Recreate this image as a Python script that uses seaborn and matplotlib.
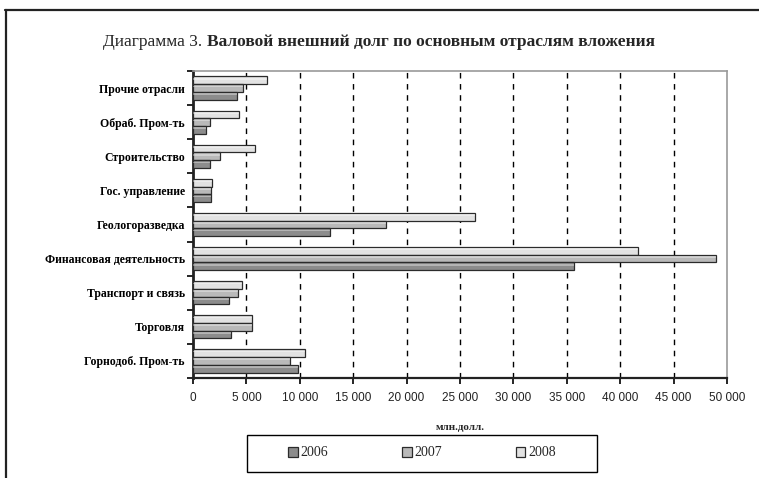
import matplotlib
matplotlib.use("Agg")
import matplotlib.pyplot as plt
from matplotlib.ticker import FuncFormatter, FixedLocator
from matplotlib.lines import Line2D
from matplotlib.patches import Patch, Rectangle
import pandas as pd
import seaborn as sns

# Branches, top to bottom
categories = [
    "Прочие отрасли",
    "Обраб. Пром-ть",
    "Строительство",
    "Гос. управление",
    "Геологоразведка",
    "Финансовая деятельность",
    "Транспорт и связь",
    "Торговля",
    "Горнодоб. Пром-ть",
]
years = ["2006", "2007", "2008"]
# Gross external debt, mln USD
debt_2006 = [4100, 1200, 1600, 1700, 12800, 35700, 3400, 3600, 9800]
debt_2007 = [4700, 1550, 2500, 1700, 18100, 49000, 4200, 5550, 9100]
debt_2008 = [6900, 4300, 5800, 1800, 26400, 41700, 4600, 5550, 10500]
x_ticks = list(range(0, 50001, 5000))

colors = {"2006": "#8c8c8c", "2007": "#b9b9b9", "2008": "#e2e2e2"}

df = pd.DataFrame({
    "branch": categories * 3,
    "year": ["2006"] * 9 + ["2007"] * 9 + ["2008"] * 9,
    "value": debt_2006 + debt_2007 + debt_2008,
})

sns.set_theme(style="white")
plt.rcParams["font.family"] = ["Liberation Serif", "DejaVu Serif"]

fig = plt.figure(figsize=(7.59, 4.78), dpi=100)
ax = fig.add_axes([193 / 759, 1 - 378 / 478, (727 - 193) / 759, (378 - 71) / 478])

sns.barplot(
    data=df, y="branch", x="value", hue="year",
    order=categories, hue_order=["2008", "2007", "2006"],
    palette=colors, orient="h", width=0.68, ax=ax,
    edgecolor="#2b2b2b", linewidth=0.9, legend=False, zorder=3,
)

# light sheen along the upper part of each bar
for p in list(ax.patches):
    x0, y0 = p.get_x(), p.get_y()
    w, h = p.get_width(), p.get_height()
    ax.add_patch(Rectangle((x0, y0 + h * 0.18), w, h * 0.22,
                           facecolor="white", alpha=0.35, lw=0, zorder=4))

ax.set_xlim(0, 50000)
ax.set_ylim(len(categories) - 0.5, -0.5)
ax.xaxis.set_major_locator(FixedLocator(x_ticks))
ax.xaxis.set_major_formatter(FuncFormatter(lambda v, _: f"{int(v):,}".replace(",", " ")))
for v in x_ticks[1:-1]:
    ax.axvline(v, color="black", lw=1.0, ls=(0, (4, 4)), zorder=1)

# category separators as ticks on the value axis
ax.set_yticks(range(len(categories)))
ax.set_yticks([i - 0.5 for i in range(len(categories) + 1)], minor=True)
ax.tick_params(axis="y", which="major", length=0, pad=6)
ax.tick_params(axis="y", which="minor", left=True, length=4, width=1.2, color="black")
ax.tick_params(axis="x", bottom=True, length=4, width=1.2, color="black", pad=6)
for lab in ax.get_yticklabels():
    lab.set_fontweight("bold")
    lab.set_fontsize(8.5)
    lab.set_color("black")
for lab in ax.get_xticklabels():
    lab.set_family(["Liberation Sans Narrow", "Liberation Sans"])
    lab.set_fontsize(8.5)
    lab.set_color("#222222")

ax.set_ylabel("")
ax.set_xlabel("млн.долл.", fontsize=8, fontweight="bold", labelpad=14)

ax.spines["left"].set_linewidth(2.0)
ax.spines["left"].set_color("#222222")
ax.spines["bottom"].set_linewidth(1.6)
ax.spines["bottom"].set_color("#222222")
for s in ("top", "right"):
    ax.spines[s].set_color("#9a9a9a")
    ax.spines[s].set_linewidth(1.2)

# title: plain prefix followed by bold text
t1 = fig.text(0.5, 1 - 42 / 478, "Диаграмма 3. ", fontsize=12.5, ha="left", va="center")
title_full = "Валовой внешний долг по основным отраслям вложения"
t2 = fig.text(0.5, 1 - 42 / 478, title_full, fontsize=12.5, fontweight="bold", ha="left", va="center")
fig.canvas.draw()
r = fig.canvas.get_renderer()
w1 = t1.get_window_extent(r).width / fig.bbox.width
w2 = t2.get_window_extent(r).width / fig.bbox.width
start = 0.4993 - (w1 + w2) / 2
t1.set_x(start)
t2.set_x(start + w1)

# legend inside a hand-drawn frame
fig.add_artist(Rectangle((247 / 759, 1 - 472 / 478), (597 - 247) / 759, 37 / 478,
                         transform=fig.transFigure, facecolor="none",
                         edgecolor="black", lw=1.0))
handles = [Patch(facecolor=colors[y], edgecolor="#2b2b2b", lw=0.9, label=y) for y in years]
fig.legend(
    handles=handles, loc="center",
    bbox_to_anchor=(422 / 759, 1 - 453 / 478),
    ncol=3, frameon=False, fontsize=10, columnspacing=5.3,
    handlelength=0.7, handleheight=0.7, handletextpad=0.2, borderaxespad=0,
)

# page frame lines
fig.add_artist(Line2D([5 / 759, 1], [1 - 10 / 478] * 2, color="#222222", lw=1.6))
fig.add_artist(Line2D([6 / 759] * 2, [0, 1 - 10 / 478], color="#222222", lw=1.6))

fig.savefig("out.png", dpi=100)
